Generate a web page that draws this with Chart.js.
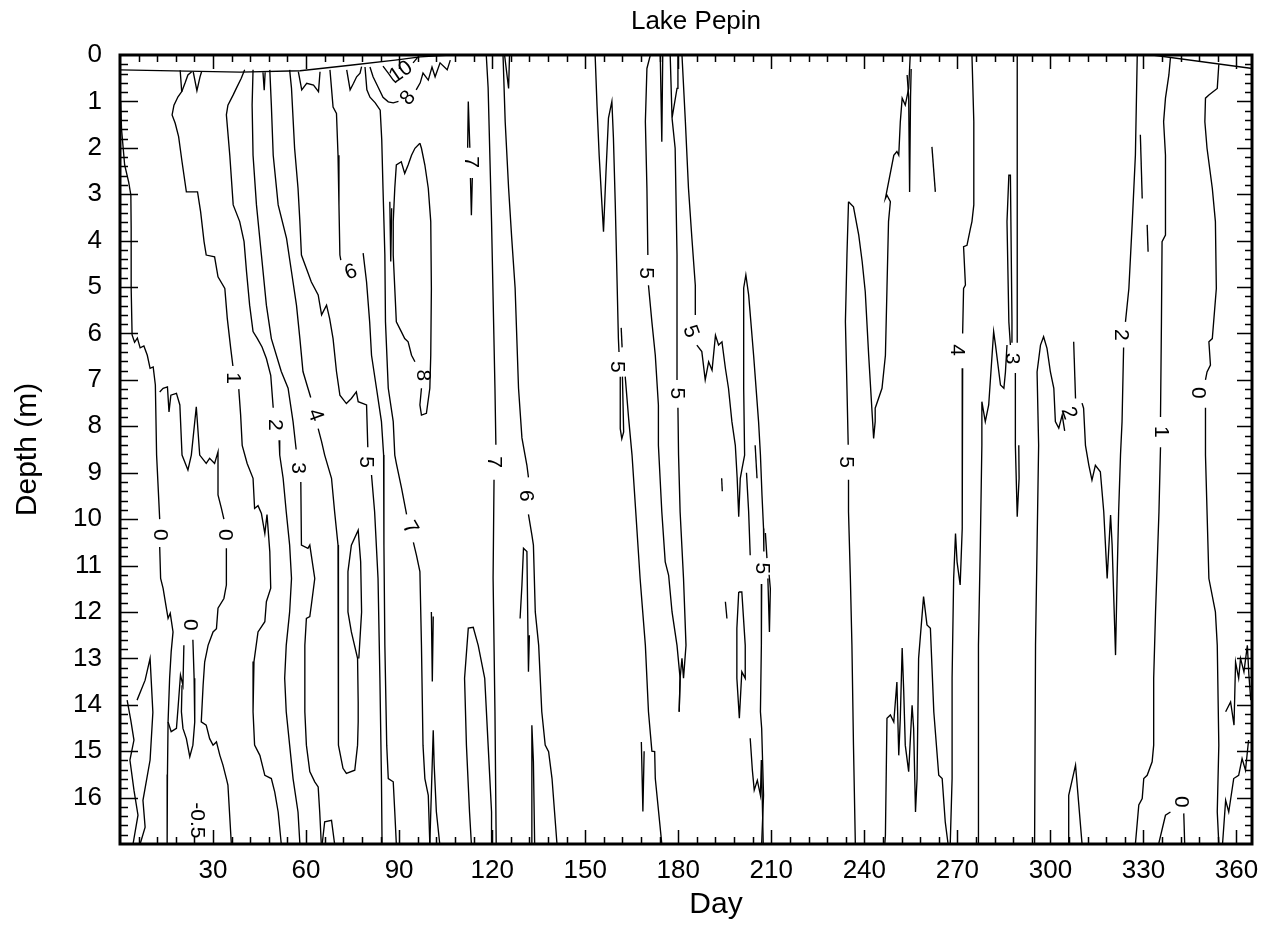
<!DOCTYPE html>
<html><head><meta charset="utf-8">
<script src="https://cdn.jsdelivr.net/npm/chart.js@4/dist/chart.umd.min.js"></script>
<style>html,body{margin:0;padding:0;background:#fff}#wrap{width:1271px;height:930px}</style>
</head><body><div id="wrap"><canvas id="c" width="1271" height="930"></canvas></div>
<script>
const FONT = '"Liberation Sans", Arial, Helvetica, sans-serif';
const chartTitle = 'Lake Pepin';
const xTitle = 'Day';
const yTitle = 'Depth (m)';
const dayTicks = [30,60,90,120,150,180,210,240,270,300,330,360];
const depthTicks = [0,1,2,3,4,5,6,7,8,9,10,11,12,13,14,15,16];

// contour polylines: [day, depth]
const surfaceL = [[0,0.32],[38.7,0.37],[58.1,0.34],[74.2,0.22],[88.7,0.11],[96.8,0.04],[106.5,0]];
const surfaceR = [[332.9,0],[363.9,0.28],[365,0.29]];
const L0a = [[0.2,1.0],[0.5,1.6],[1.5,2.37],[2.8,2.74],[3.5,3.02],[3.6,3.73],[3.6,5.02],[3.9,6.03],[4.7,6.19],[5.6,6.1],[6.5,6.31],[7.7,6.27],[8.8,6.47],[9.7,6.75],[10.7,6.72],[11.4,7.11],[11.8,8.62],[12.8,10.0]];
const L0b = [[12.8,10.6],[13.1,11.28],[13.9,11.49],[14.6,11.78],[15.5,12.14],[16.2,12.03],[17.1,12.43],[16.5,12.86],[16.0,13.43],[15.5,14.37],[16.5,14.58],[18.2,14.51],[18.7,14.08],[19.5,13.36],[20.3,13.58],[20.6,12.72]];
const L0c = [[15.5,14.37],[15.3,15.5],[15.2,17.0]];
const Z1 = [[12.8,7.26],[13.9,7.18],[15.3,7.15],[15.8,7.69],[16.4,7.33],[18.2,7.29],[19.3,7.54],[20.0,8.62],[21.9,8.94],[23.0,8.62],[24.6,7.58],[25.7,8.62],[27.8,8.80],[28.9,8.69],[30.5,8.80],[31.6,8.55],[31.6,9.48],[32.7,9.77],[33.5,10.0]];
const Z2 = [[34.3,10.63],[34.3,11.42],[33.5,11.71],[31.6,11.92],[31.1,12.36],[30.0,12.43],[28.4,12.72],[27.3,13.08],[26.8,13.58],[26.2,14.37],[27.8,14.44],[28.9,14.73],[30.0,14.87],[31.1,14.80],[32.2,15.09],[33.2,15.30],[34.3,15.59],[34.8,15.73],[35.9,17.0]];
const Z3 = [[23.5,12.6],[23.9,13.43],[24.1,14.37],[23.5,14.87],[22.5,15.12],[21.4,14.73],[20.3,14.51],[19.8,14.15],[20.0,13.58]];
const LF1 = [[2.3,13.9],[3.5,14.34],[4.5,14.76],[3.2,15.19],[4.5,15.84],[5.8,16.38],[4.2,17.0]];
const LF2 = [[5.5,13.9],[8.1,13.47],[9.7,13.0],[10.6,14.16],[9.7,15.19],[7.4,16.06],[8.1,16.64],[6.5,17.0]];
const L1 = [[19.4,0.33],[19.9,0.79],[18.7,0.9],[17.4,1.08],[16.8,1.29],[17.8,1.47],[18.9,1.76],[20.0,2.30],[21.4,2.95],[25.0,2.95],[26.0,3.38],[27.1,4.02],[27.8,4.31],[30.5,4.35],[31.6,4.78],[33.8,5.03],[34.6,5.68],[35.7,6.32],[36.4,6.7]];
const V1 = [[19.9,0.79],[21.0,0.6],[21.9,0.43],[23.1,0.36]];
const V2 = [[23.6,0.36],[24.8,0.77],[25.8,0.47],[26.3,0.36]];
const L1b = [[38.3,7.2],[38.9,7.76],[39.4,8.41],[41.0,8.8],[42.9,9.12],[43.4,9.77],[44.5,9.71],[45.6,9.88],[46.7,10.31],[47.4,9.9],[48.3,10.70],[48.6,11.49],[47.2,11.78],[46.7,12.21],[44.5,12.43],[43.2,13.07],[42.9,14.15],[43.4,14.87],[45.1,15.09],[46.7,15.52],[48.8,15.59],[49.9,15.88],[51.0,16.31],[52.0,17.0]];
const spikeA = [[46.1,0.37],[46.5,0.76],[46.8,0.37]];
const U1 = [[57.5,0.36],[58.6,0.75],[60.2,0.61],[62.4,0.65],[64.0,0.79],[64.5,0.36]];
const V3 = [[73.1,0.32],[74.2,0.75],[75.3,0.61],[76.3,0.47],[77.4,0.39],[77.9,0.25]];
const L2 = [[40.2,0.32],[39.1,0.5],[37.5,0.72],[36.5,0.86],[34.8,1.08],[34.3,1.29],[35.4,2.16],[36.5,3.23],[38.6,3.59],[40.0,4.02],[40.8,4.67],[41.8,5.39],[42.9,5.96],[44.3,6.11],[45.8,6.29],[47.2,6.54],[48.6,6.90],[49.4,7.6]];
const L2b = [[51.3,8.3],[51.5,8.62],[52.6,9.12],[53.6,9.84],[54.7,10.56],[55.3,11.28],[54.7,12.0],[53.6,12.72],[53.1,13.43],[53.6,14.15],[54.7,14.87],[55.8,15.59],[57.4,16.31],[58.0,17.0]];
const L3 = [[42.9,0.32],[42.6,1.08],[42.9,2.16],[44.0,3.23],[45.6,4.31],[47.2,5.39],[48.8,6.11],[52.0,6.82],[54.2,7.18],[55.8,7.90],[56.8,8.5]];
const L3b = [[58.3,9.2],[58.5,10.56],[60.6,10.63],[61.2,10.56],[62.8,11.28],[61.7,11.85],[61.2,12.10],[60.1,12.14],[59.6,12.72],[59.6,14.15],[60.1,14.87],[61.2,15.44],[62.8,15.66],[63.9,15.77],[64.4,16.31],[64.9,17.0]];
const L4 = [[48.3,0.32],[48.8,1.08],[49.4,2.16],[51.0,3.23],[53.7,3.95],[55.3,4.67],[56.9,5.39],[58.0,6.11],[59.0,6.82],[60.6,7.18],[61.5,7.38]];
const L4b = [[63.9,8.05],[65.0,8.33],[66.0,8.62],[68.2,9.12],[69.2,9.84],[70.3,10.56],[70.5,12.0],[70.3,13.43],[70.5,14.87],[71.9,15.37],[73.0,15.48],[75.7,15.41],[76.6,14.87],[76.8,14.37],[76.8,13.94],[76.6,13.0],[74.6,12.43],[73.5,12.0],[73.5,11.13],[74.6,10.56],[76.8,10.24],[77.6,10.92],[77.9,12.0],[77.0,13.0]];
const bump = [[65.2,17.0],[66.0,16.52],[68.2,16.49],[69.2,17.0]];
const L5 = [[54.7,0.32],[55.3,0.72],[56.3,2.01],[57.4,2.87],[58.0,3.59],[58.5,4.31],[60.1,4.60],[61.7,4.89],[63.9,5.17],[65.0,5.60],[66.6,5.39],[67.6,5.68],[68.7,6.11],[69.8,6.82],[70.9,7.33],[73.0,7.51],[74.6,7.40],[76.2,7.26],[76.8,7.47],[79.5,7.54],[79.9,8.45]];
const L5b = [[81.1,9.05],[82.1,9.84],[83.2,11.28],[83.8,13.43],[84.3,15.59],[84.5,17.0]];
const L6 = [[67.7,0.32],[68.7,1.12],[69.8,1.26],[70.3,2.16],[70.6,3.23],[70.9,4.31],[71.2,4.42]];
const L6b = [[78.4,4.27],[79.5,4.89],[80.5,5.75],[81.1,6.47],[82.7,7.18],[84.3,7.90],[85.0,8.62],[85.1,10.56],[85.4,12.72],[86.0,14.87],[86.5,15.59],[88.1,15.66],[88.6,16.31],[89.1,17.0]];
const L7 = [[79.0,0.26],[79.6,0.75],[80.6,0.91],[82.3,1.03],[83.9,1.19],[84.4,1.83],[84.8,2.87],[85.4,4.31],[85.6,5.75],[86.5,7.18],[88.1,7.90],[88.6,8.62],[89.1,8.8],[90.8,9.34],[92.4,9.9]];
const L7b = [[94.6,10.5],[95.6,10.78],[96.7,11.13],[97.2,12.72],[97.7,14.87],[98.3,15.59],[99.4,15.95],[99.9,17.0]];
const c8top = [[80.6,0.26],[81.6,0.47],[83.2,0.69],[84.8,0.91],[86.5,1.01],[88.1,1.03],[89.8,1.0]];
const c8top2 = [[95.5,0.75],[96.8,0.60],[97.7,0.39],[99.4,0.54],[100.6,0.26],[101.6,0.47],[103.2,0.17],[105.5,0.32],[106.5,0.11]];
const c10 = [[84.8,0.24],[86.5,0.39],[88.1,0.54],[89.0,0.6]];
const c10b = [[94.5,0.17],[96.1,0.04]];
const loop8 = [[96.7,1.90],[95.1,2.01],[94.0,2.16],[92.9,2.37],[91.8,2.55],[90.7,2.30],[89.1,2.37],[88.6,2.87],[88.1,3.59],[88.1,4.31],[88.6,5.03],[89.1,5.75],[90.7,5.96],[91.8,6.11],[92.9,6.18],[94.0,6.47],[95.1,6.61]];
const loop8b = [[97.2,7.18],[96.7,7.54],[97.2,7.76],[98.8,7.72],[99.9,7.18],[100.2,6.47],[100.4,5.03],[100.2,3.59],[99.4,2.87],[98.3,2.37],[97.2,2.01],[96.7,1.90]];
const spike8 = [[87.0,3.16],[87.3,4.45],[87.6,3.3]];
const c7a = [[112.1,2.0],[112.3,1.0],[112.8,2.0]];
const c7b = [[113.0,2.65],[113.3,3.45],[113.6,2.65]];
const c7line = [[118.1,0],[118.7,0.71],[119.8,3.59],[120.9,7.18],[121.2,8.4]];
const c7lineb = [[120.6,9.15],[120.3,11.27],[120.9,14.15],[121.3,17.0]];
const peakA = [[113.3,17.0],[112.7,16.31],[111.7,14.87],[111.1,13.43],[112.3,12.35],[113.9,12.33],[115.5,12.72],[117.6,13.43],[118.7,14.87],[119.8,16.31],[119.8,17.0]];
const spikeB = [[100.4,12.0],[100.7,13.5],[101.0,12.1]];
const spikeC = [[99.9,17.0],[101.0,14.55],[101.3,15.3],[102.0,16.3],[103.1,17.0]];
const c123 = [[124.0,0],[125.3,0.72],[125.6,0]];
const c6r = [[123.5,0],[124.2,1.44],[125.3,2.87],[126.3,3.94],[127.4,5.02],[128.5,7.18],[129.6,8.25],[130.6,8.62],[131.2,8.84],[131.7,9.1]];
const c6rb = [[131.7,9.9],[132.8,10.34],[133.3,10.56],[133.9,12.0],[135.0,12.72],[136.0,14.15],[137.1,14.87],[138.2,15.01],[139.3,15.59],[140.9,17.0]];
const S1 = [[129.0,12.14],[129.6,11.42],[130.1,10.63],[131.2,10.70],[131.7,13.29],[132.0,12.5]];
const S2 = [[132.6,17.0],[132.8,14.44],[133.3,15.23],[133.7,17.0]];
const c5a = [[153.2,0],[153.8,1.08],[154.5,2.16],[155.4,3.23],[155.9,3.81],[156.7,2.52],[157.5,1.36],[158.6,1.0],[159.1,1.79],[159.7,3.23],[160.2,4.67],[160.7,6.11],[160.9,6.4]];
const c5ab = [[162.9,6.93],[164.0,7.83],[165.1,8.62],[166.3,9.84],[167.7,11.28],[169.4,12.72],[170.4,14.15],[171.5,15.0],[172.4,15.01],[172.6,15.59],[174.7,17.0]];
const c5aLoop = [[161.3,6.93],[161.3,8.05],[161.8,8.27],[162.4,8.12],[162.0,6.93]];
const c5aSpike = [[161.6,5.88],[161.9,6.3]];
const c5aSpike2 = [[168.1,14.8],[168.6,16.3],[169.0,15.0]];
const c5b = [[171.0,0],[169.9,0.29],[169.4,1.44],[169.9,2.87],[170.2,4.31]];
const c5bb = [[170.4,4.96],[171.5,5.75],[172.6,6.47],[173.6,7.54],[173.6,8.41],[174.7,9.84],[175.8,10.92],[176.9,11.21],[178.0,12.0],[179.6,12.72],[180.6,13.43],[180.3,14.15]];
const c5c = [[177.4,0],[178.0,1.36],[179.6,0.72],[179.9,0]];
const c5cMain = [[178.0,1.36],[179.0,2.01],[179.6,4.31],[179.6,7.0]];
const c5cb = [[179.9,7.6],[180.1,8.62],[180.6,9.84],[181.7,11.28],[182.5,12.72],[181.7,13.43],[181.2,13.0],[180.6,13.43],[180.3,14.15]];
const c5s = [[174.2,0],[174.7,1.87],[175.0,0]];
const c5d = [[181.2,0],[182.3,1.44],[183.3,2.87],[184.4,3.95],[185.5,4.96],[185.5,5.6]];
const c5db = [[186.0,6.25],[187.6,6.39],[188.7,7.0],[189.8,6.61],[190.9,6.79],[192.0,6.04],[193.0,6.25],[194.1,6.18],[195.2,6.75],[196.2,7.18],[197.3,7.90],[198.4,8.41],[199.0,9.12],[199.5,9.95],[200.0,9.12],[200.6,8.9],[201.4,8.62],[201.1,7.18],[201.1,5.02],[201.8,4.74],[202.7,5.17],[204.3,6.47],[205.9,7.90],[206.5,8.62],[207.0,9.48],[207.5,10.20],[207.6,10.7]];
const c5eb = [[206.9,11.4],[206.8,12.72],[206.5,14.15],[206.9,14.51],[207.5,15.95],[206.9,17.0]];
const c5dSpike = [[202.0,9.0],[202.7,9.84],[203.2,10.78]];
const C2 = [[204.8,8.41],[205.4,9.12]];
const C3 = [[208.9,11.28],[209.4,12.43],[209.7,11.5],[209.3,11.2]];
const C3b = [[208.1,10.3],[208.6,10.84]];
const C4 = [[199.5,11.57],[200.5,11.57],[201.6,12.72],[201.6,13.43],[200.5,13.29],[199.7,14.29],[198.9,13.43],[198.9,12.35],[199.5,11.57]];
const C5 = [[195.2,11.78],[195.7,12.14]];
const C5b = [[194.0,9.12],[194.2,9.4]];
const C6 = [[203.2,14.72],[203.9,15.41],[204.5,15.84],[205.5,15.63],[206.5,15.95],[206.8,15.19],[207.1,16.06],[207.4,17.0]];
const c5f = [[234.9,3.16],[234.4,4.31],[233.9,5.75],[234.4,7.18],[234.8,8.4]];
const c5fb = [[234.9,9.15],[234.9,9.84],[235.5,11.28],[236.0,12.72],[236.5,14.87],[237.1,17.0]];
const c5fr = [[234.9,3.16],[236.5,3.27],[238.2,3.88],[239.3,4.45],[240.3,5.10],[241.4,6.47],[243.0,8.26],[243.5,7.90],[243.5,7.61],[245.7,7.18],[246.8,6.47],[247.3,5.03],[247.8,3.59],[248.4,3.16],[247.3,3.02],[246.8,3.09],[249.5,2.16],[250.5,2.08],[251.1,2.16],[251.6,1.44],[252.2,0.93],[253.2,1.08],[254.3,0.72],[254.8,0]];
const spike908 = [[253.8,0.43],[254.3,0.9],[254.6,2.95],[254.9,0.9],[255.1,0.3]];
const small262 = [[261.8,1.98],[262.9,2.95]];
const c4r = [[274.7,0],[275.3,1.44],[275.3,3.23],[274.7,3.59],[274.2,3.74],[273.1,4.10],[272.0,4.13],[272.6,4.96],[272.0,5.03],[271.7,6.0]];
const c4rb = [[271.7,6.75],[271.5,8.62],[271.5,9.48],[271.7,10.20],[270.9,11.42],[269.9,10.92],[269.4,10.31],[268.8,11.28],[268.3,13.43],[268.3,15.59],[267.7,17.0]];
const peaks246 = [[246.6,17.0],[246.8,16.81],[247.3,14.29],[248.4,14.22],[249.5,14.37],[250.5,13.51],[251.1,15.09],[251.6,14.29],[252.2,12.78],[252.7,13.71],[253.2,14.87],[254.3,15.44],[255.4,14.01],[255.9,14.51],[256.5,16.31],[257.0,15.59],[257.5,13.0],[259.1,11.67],[260.2,12.28],[261.3,12.35],[262.4,14.15],[264.0,15.52],[265.1,15.59],[266.1,16.53],[267.0,17.0]];
const c3main = [[289.3,0],[289.3,3.0],[289.3,6.2]];
const c3low = [[288.7,6.85],[288.7,8.41],[289.3,9.95],[289.9,9.12],[289.8,8.41]];
const c3thin = [[287.1,6.25],[286.6,5.75],[286.0,3.59],[286.6,2.59],[287.1,2.59],[287.6,5.71],[287.6,6.2]];
const cJag3 = [[276.8,17.0],[276.8,12.72],[277.4,10.56],[277.9,8.41],[277.9,7.47],[279.0,7.90],[280.1,7.54],[281.7,5.96],[282.3,6.25],[283.9,7.11],[285.0,7.18],[285.5,6.83],[286.0,6.25]];
const bigPeak = [[294.9,17.0],[295.2,12.72],[295.7,10.56],[296.2,8.41],[295.7,6.83],[296.8,6.25],[297.8,6.07],[298.9,6.32],[300.0,6.83],[301.1,7.18],[301.6,7.90],[302.7,8.04],[303.8,7.76],[304.6,8.1]];
const c2small = [[307.5,6.18],[308.1,7.4]];
const c2r = [[328.0,0],[327.4,2.16],[326.4,3.59],[325.3,5.03],[324.2,5.75]];
const c2rb = [[323.6,6.3],[323.1,7.90],[322.6,8.62],[322.0,9.84],[321.5,11.28],[321.0,12.93],[319.9,10.56],[319.4,9.91],[318.3,11.28],[317.2,9.84],[316.1,8.98],[314.5,8.84],[313.4,9.16],[312.4,8.84],[311.3,8.41],[310.7,7.61],[310.2,7.50]];
const c1r = [[338.7,0.06],[338.2,0.43],[337.1,0.93],[336.5,1.44],[337.1,2.16],[337.1,3.88],[336.0,4.02],[335.8,5.75],[335.5,7.8]];
const c1rb = [[335.5,8.45],[335.0,9.84],[333.9,12.0],[333.3,13.43],[333.3,14.87],[332.8,15.23],[331.2,15.52],[330.1,15.59],[329.6,16.02],[328.5,16.16],[327.4,17.0]];
const small329 = [[329.0,1.72],[329.6,3.09]];
const small331 = [[331.2,3.66],[331.5,4.24]];
const c0r = [[354.3,0.2],[353.8,0.72],[351.1,0.86],[350.0,0.93],[349.8,1.44],[350.5,2.01],[352.2,2.87],[353.2,3.59],[353.5,5.03],[352.2,6.11],[351.1,6.18],[351.6,6.68],[350.5,6.83],[350.0,7.0]];
const c0rb = [[350.0,7.6],[350.0,8.62],[351.1,11.28],[353.2,12.0],[353.8,12.72],[354.3,14.87],[353.8,16.31],[354.3,17.0]];
const RB1 = [[356.5,14.15],[358.1,13.94],[359.2,14.44],[359.7,13.08],[360.7,13.43],[361.3,13.0],[362.4,13.29],[363.5,12.72],[364.0,13.36],[364.6,13.9]];
const RB2 = [[355.5,17.0],[356.5,16.06],[357.5,16.31],[359.1,15.59],[360.7,15.52],[361.8,15.16],[362.9,15.41],[363.9,14.76]];
const c0small = [[334.9,17.0],[337.1,16.38],[338.7,16.31]];
const c0small2 = [[343.0,16.34],[343.3,17.0]];
const smallPeak = [[305.7,17.0],[305.9,15.95],[308.1,15.30],[310.2,17.0]];

const contours = [surfaceL,surfaceR,L0a,L0b,L0c,Z1,Z2,Z3,LF1,LF2,L1,V1,V2,L1b,spikeA,U1,V3,L2,L2b,L3,L3b,L4,L4b,bump,L5,L5b,L6,L6b,L7,L7b,c8top,c8top2,c10,c10b,loop8,loop8b,spike8,c7a,c7b,c7line,c7lineb,peakA,spikeB,spikeC,c123,c6r,c6rb,S1,S2,c5a,c5ab,c5aLoop,c5aSpike,c5aSpike2,c5b,c5bb,c5c,c5cMain,c5cb,c5s,c5d,c5db,c5eb,c5dSpike,C2,C3,C3b,C4,C5,C5b,C6,c5f,c5fb,c5fr,spike908,small262,c4r,c4rb,peaks246,c3main,c3low,c3thin,cJag3,bigPeak,c2small,c2r,c2rb,c1r,c1rb,small329,small331,c0r,c0rb,RB1,RB2,c0small,c0small2,smallPeak];

// contour labels: [day, depth, text, rotation in degrees]
const contourLabels = [
  [12.8,10.34,'0',90],[33.8,10.34,'0',90],[22.5,12.28,'0',90],[24.8,16.49,'-0.5',90],
  [36.5,6.96,'1',90],[50.0,7.97,'2',90],[57.4,8.90,'3',90],[62.9,7.76,'4',70],
  [79.4,8.77,'5',90],[74.5,4.68,'6',-20],[93.5,10.19,'7',60],[97.7,6.90,'8',90],
  [90.6,0.37,'10',-35],[92.9,0.93,'8',-50],[113.0,2.31,'7',90],[120.6,8.77,'7',90],
  [130.9,9.5,'6',90],[160.3,6.72,'5',90],[169.4,4.70,'5',90],[179.6,7.29,'5',90],
  [183.9,5.96,'5',70],[206.9,11.06,'5',90],[233.9,8.77,'5',90],[269.9,6.36,'4',90],
  [287.6,6.54,'3',90],[305.9,7.72,'2',70],[322.6,6.03,'2',90],[335.5,8.12,'1',90],
  [347.4,7.28,'0',90],[341.9,16.09,'0',90]
];

const dayMinorStep = 6, depthMinorStep = 0.2;

const overlay = {
  id: 'overlay',
  afterDatasetsDraw(chart) {
    const {ctx, chartArea: a, scales: {x, y}} = chart;
    ctx.save();
    ctx.strokeStyle = '#000';
    ctx.lineWidth = 1.5;
    ctx.beginPath();
    for (let k = 1; k * dayMinorStep < 365; k++) {
      const d = k * dayMinorStep;
      const px = Math.round(x.getPixelForValue(d)) + 0.5;
      const L = (d % 30 === 0) ? 14 : 7;
      ctx.moveTo(px, a.bottom); ctx.lineTo(px, a.bottom - L);
      ctx.moveTo(px, a.top); ctx.lineTo(px, a.top + L);
    }
    for (let k = 1; k * depthMinorStep < 17 - 1e-6; k++) {
      const v = k * depthMinorStep;
      const py = Math.round(y.getPixelForValue(v)) + 0.5;
      const major = (k % 5 === 0);
      const L = major ? 18 : 8;
      const R = major ? 15 : 7;
      ctx.moveTo(a.left, py); ctx.lineTo(a.left + L, py);
      ctx.moveTo(a.right, py); ctx.lineTo(a.right - R, py);
    }
    ctx.stroke();
    ctx.lineWidth = 3;
    ctx.strokeRect(a.left, a.top, a.right - a.left, a.bottom - a.top);
    ctx.fillStyle = '#000';
    ctx.textAlign = 'center';
    ctx.textBaseline = 'middle';
    ctx.font = '21px ' + FONT;
    for (const [d, z, t, r] of contourLabels) {
      ctx.save();
      ctx.translate(x.getPixelForValue(d), y.getPixelForValue(z));
      ctx.rotate(r * Math.PI / 180);
      ctx.fillText(t, 0, 0);
      ctx.restore();
    }
    // chart title and x-axis title, placed as in the reference
    ctx.font = '26px ' + FONT;
    ctx.fillText(chartTitle, (a.left + a.right) / 2 + 10, 22);
    ctx.font = '30px ' + FONT;
    ctx.fillText(xTitle, (a.left + a.right) / 2 + 30, 905);
    ctx.restore();
  }
};

new Chart(document.getElementById('c'), {
  type: 'scatter',
  data: {
    datasets: contours.map(pts => ({
      data: pts.map(p => ({x: p[0], y: p[1]})),
      showLine: true, borderColor: '#000', borderWidth: 1.35,
      pointRadius: 0, pointHoverRadius: 0, fill: false, tension: 0
    }))
  },
  options: {
    responsive: false, animation: false, devicePixelRatio: 1,
    layout: {padding: {left: 0, right: 19, top: 55, bottom: 0}},
    plugins: {
      legend: {display: false}, tooltip: {enabled: false},
      title: {display: false}
    },
    scales: {
      x: {
        type: 'linear', min: 0, max: 365,
        afterBuildTicks: s => { s.ticks = dayTicks.map(v => ({value: v})); },
        afterFit: s => { s.height = 86; },
        grid: {display: false, drawTicks: false}, border: {display: false},
        ticks: {font: {family: FONT, size: 26}, color: '#000', padding: 11, maxRotation: 0, autoSkip: false},
        title: {display: false}
      },
      y: {
        type: 'linear', reverse: true, min: 0, max: 17,
        afterBuildTicks: s => { s.ticks = depthTicks.map(v => ({value: v})); },
        afterFit: s => { s.width = 120; },
        grid: {display: false, drawTicks: false}, border: {display: false},
        ticks: {font: {family: FONT, size: 26}, color: '#000', padding: 18, autoSkip: false},
        title: {display: true, text: yTitle, color: '#000', font: {family: FONT, size: 30}, padding: {top: 10, bottom: 0}}
      }
    }
  },
  plugins: [overlay]
});
</script></body></html>
